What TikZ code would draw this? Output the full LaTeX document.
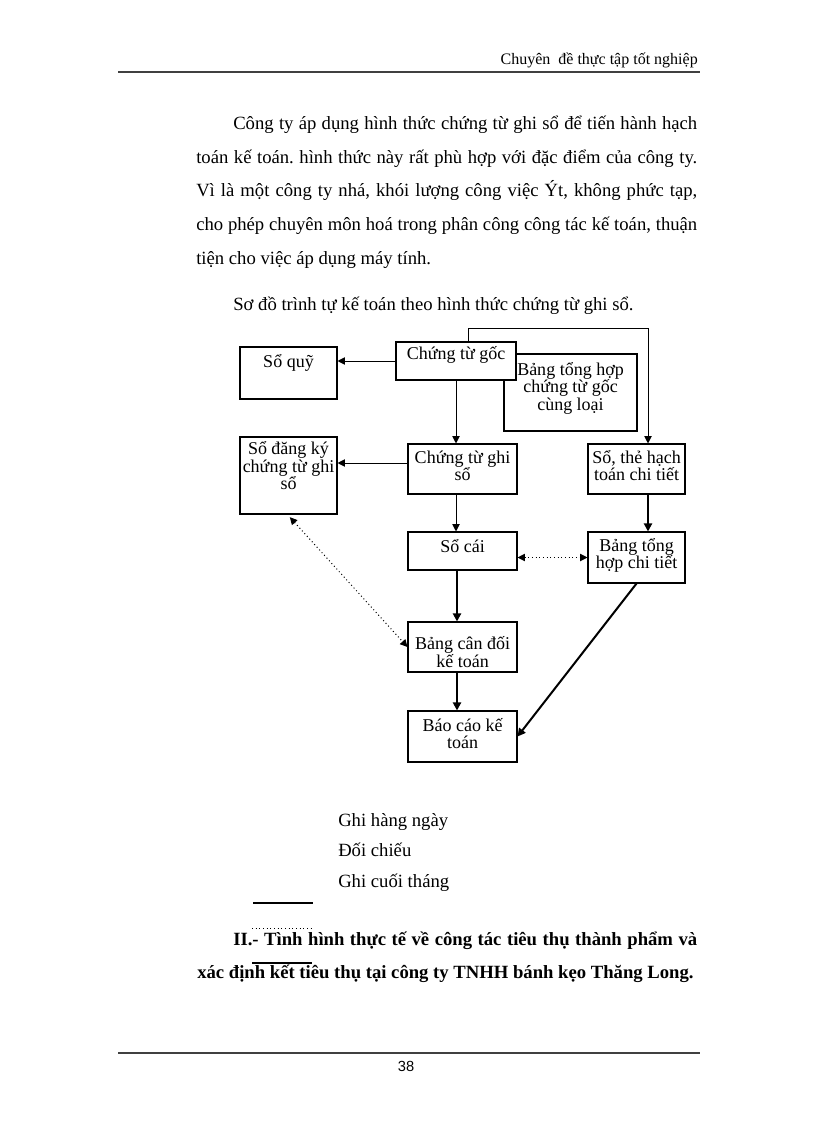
\documentclass[tikz,border=0pt]{standalone}
\usepackage{fontspec}
\setmainfont{Liberation Serif}
\newfontfamily\numfont{Liberation Sans}
\usetikzlibrary{arrows.meta,fit}
\frenchspacing
\begin{document}
\begin{tikzpicture}[x=0.75pt,y=-0.75pt,
 box/.style={draw=black, line width=0.8pt, inner sep=0pt, fill=white},
 lbl/.style={inner sep=0pt, anchor=north, align=center, font=\fontsize{13.5}{13.1}\selectfont},
 txt/.style={inner sep=0pt, anchor=base west, font=\fontsize{14}{16}\selectfont},
 bold/.style={txt, font=\fontsize{14}{16}\selectfont\bfseries},
 thinar/.style={line width=0.75pt, -{Triangle[length=5.5pt,width=5.5pt]}},
 thickar/.style={line width=1.5pt, -{Triangle[length=6pt,width=6pt]}},
 dotar/.style={line width=0.75pt, dotted, {Triangle[length=5.5pt,width=5.5pt]}-{Triangle[length=5.5pt,width=5.5pt]}},
 rulestyle/.style={line width=1pt, black!75},
]
\useasboundingbox (0,0) rectangle (816,1123);

% header
\node[inner sep=0pt, anchor=base east, font=\fontsize{12}{14}\selectfont] (hdr) at (698,65) {Chuyên\ \ đề thực tập tốt nghiệp};
\draw[rulestyle] (118,72) -- (700,72);

% paragraph
\node[txt] (p1) at (233,130) {\hbox to 348pt{Công ty áp dụng hình thức chứng từ ghi sổ để tiến hành hạch}};
\node[txt] (p2) at (196,164) {\hbox to 375.75pt{toán kế toán. hình thức này rất phù hợp với đặc điểm của công ty.}};
\node[txt] (p3) at (196,197) {\hbox to 375.75pt{Vì là một công ty nhá, khói lượng công việc Ýt, không phức tạp,}};
\node[txt] (p4) at (196,230) {\hbox to 375.75pt{cho phép chuyên môn hoá trong phân công công tác kế toán, thuận}};
\node[txt] (p5) at (196,264) {tiện cho việc áp dụng máy tính.};
\node[txt] (p6) at (233,310) {Sơ đồ trình tự kế toán theo hình thức chứng từ ghi sổ.};

% boxes
\node[box, fit={(240,347) (337,399)}] (quy) {};
\node[box, fit={(504,354) (637,431)}] (bth) {};
\node[box, fit={(396,342) (516,380)}] (goc) {};
\node[box, fit={(240,437) (337,514)}] (dk) {};
\node[box, fit={(408,444) (517,494)}] (ctgs) {};
\node[box, fit={(588,444) (685,494)}] (the) {};
\node[box, fit={(408,532) (517,570)}] (cai) {};
\node[box, fit={(588,532) (685,583)}] (bthct) {};
\node[box, fit={(408,622) (517,672)}] (bcd) {};
\node[box, fit={(408,711) (517,762)}] (bc) {};

% labels
\node[lbl] (tquy) at ([yshift=-2.5pt]quy.north) {\rule{0pt}{13pt}Sổ quỹ};
\node[lbl] (tbth) at ([yshift=-3pt]bth.north) {\rule{0pt}{13pt}Bảng tổng hợp\\chứng từ gốc\\cùng loại};
\node[lbl] (tgoc) at ([yshift=-0.5pt]goc.north) {\rule{0pt}{13pt}Chứng từ gốc};
\node[lbl] (tdk) at ([yshift=-0.5pt]dk.north) {\rule{0pt}{13pt}Sổ đăng ký\\chứng từ ghi\\sổ};
\node[lbl] (tctgs) at ([yshift=-1.75pt]ctgs.north) {\rule{0pt}{13pt}Chứng từ ghi\\sổ};
\node[lbl] (tthe) at ([yshift=-1.75pt]the.north) {\rule{0pt}{13pt}Sổ, thẻ hạch\\toán chi tiết};
\node[lbl] (tcai) at ([yshift=-2.5pt]cai.north) {\rule{0pt}{13pt}Sổ cái};
\node[lbl] (tbthct) at ([yshift=-1.75pt]bthct.north) {\rule{0pt}{13pt}Bảng tổng\\hợp chi tiết};
\node[lbl] (tbcd) at ([yshift=-8pt]bcd.north) {\rule{0pt}{13pt}Bảng cân đối\\kế toán};
\node[lbl] (tbc) at ([yshift=-2.5pt]bc.north) {\rule{0pt}{13pt}Báo cáo kế\\toán};

% connectors
\coordinate (c1) at (468,328);
\coordinate (c2) at (648,328);
\draw[thinar] (goc.west) -- (goc.west -| quy.east);
\draw[thinar] (goc.south) -- (goc.south |- ctgs.north);
\draw[thinar] (goc.north -| c1) -- (c1) -- (c2) -- (c2 |- the.north);
\draw[thinar] (ctgs.west |- 0,463) -- (dk.east |- 0,463);
\draw[thinar] (ctgs.south -| goc.south) -- (cai.north -| goc.south);
\draw[thickar] (the.south -| c2) -- (bthct.north -| c2);
\draw[dotar] (bthct.west -| cai.east) -- (bthct.west);
\draw[thickar] (cai.south -| 457,0) -- (bcd.north -| 457,0);
\draw[thickar] (bcd.south -| 457,0) -- (bc.north -| 457,0);
\draw[dotar] ([xshift=1pt,yshift=-2pt]dk.south) -- (bcd.west);
\draw[thickar] (bthct.south) -- (bc.east);

% legend
\node[txt] (l1) at (338,826) {Ghi hàng ngày};
\node[txt] (l2) at (338,856) {Đối chiếu};
\node[txt] (l3) at (338,887) {Ghi cuối tháng};
\draw[line width=0.8pt] (253,903) -- (313,903);
\draw[line width=0.75pt, dotted] (252,928) -- (312,928);
\draw[line width=1.3pt] (252,963) -- (312,963);

% heading
\node[bold] (h1) at (233,945) {\hbox to 348pt{II.- Tình hình thực tế về công tác tiêu thụ thành phẩm và}};
\node[bold] (h2) at (197,978) {xác định kết tiêu thụ tại công ty TNHH bánh kẹo Thăng Long.};

% footer
\draw[rulestyle] (118,1053) -- (700,1053);
\node[inner sep=0pt, anchor=base, font=\numfont\fontsize{11}{13}\selectfont] (pg) at (406,1071) {38};
\end{tikzpicture}
\end{document}
